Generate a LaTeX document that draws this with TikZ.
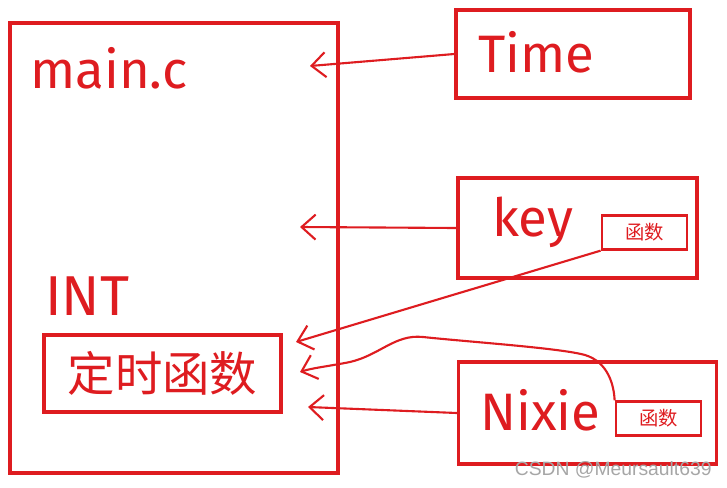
\documentclass[tikz,border=0pt]{standalone}
\usepackage{fontspec}
\setmainfont{Fira Sans}
\newfontfamily\cjk{Noto Sans CJK SC}
\newfontfamily\wmfont{Liberation Sans}
\usepackage{xcolor}
\usetikzlibrary{positioning,arrows.meta}
\definecolor{hand}{RGB}{222,28,32}

\begin{document}
\begin{tikzpicture}[
  x=0.02cm, y=-0.02cm,
  module/.style={
    draw=hand,
    line width=1.9pt,
    inner sep=0pt
  },
  subbox/.style={
    draw=hand,
    line width=1.6pt,
    inner sep=0pt,
    minimum width=1.7cm,
    minimum height=0.67cm,
    font=\cjk\fontsize{11}{11}\selectfont,
    text=hand
  },
  lab/.style={text=hand, anchor=west, inner sep=0pt, font=\fontsize{30}{30}\selectfont},
  link/.style={draw=hand, line width=1.2pt, -{Straight Barb[length=2.8mm,width=5mm]}}
]
  \useasboundingbox (0,0) rectangle (727,487);

  \node[module, minimum width=6.56cm, minimum height=9cm] (main) at (174,248) {};
  \node[module, minimum width=4.68cm, minimum height=1.76cm] (time) at (573,54) {};
  \node[module, minimum width=4.78cm, minimum height=2cm] (key) at (577.5,228) {};
  \node[module, minimum width=5.16cm, minimum height=2.04cm] (nixie) at (587.5,413) {};
  \node[module, minimum width=4.74cm, minimum height=1.54cm, text=hand,
        font=\cjk\fontsize{27}{27}\selectfont] (timer) at (162.5,373.5) {定时函数};
  \node[subbox] (keyfn) at (644.5,232.5) {函数};
  \node[subbox] (nixiefn) at (658.5,418.5) {函数};

  \node[lab] (mainlab) at (30,68) {main.c};
  \node[lab, font=\fontsize{32}{32}\selectfont] (intlab) at (45,296) {INT};
  \node[lab] (timelab) at (478,52) {Time};
  \node[lab] (keylab) at (492,222) {key};
  \node[lab] (nixielab) at (480,410) {Nixie};

  \coordinate (timein) at (310,66);
  \coordinate (keyin) at (300,227);
  \coordinate (fnin1) at (296,342);
  \coordinate (fnin2) at (300,372);
  \coordinate (nixiein) at (308,407);

  \draw[link] (time.west) -- (timein);
  \draw[link] (key.west) -- (keyin);
  \draw[link] (keyfn.south west) -- (fnin1);
  \draw[link] (nixiefn.north west) .. controls (614,385) and (608,362) .. (585,355)
    .. controls (560,348) and (470,342) .. (423,337)
    .. controls (395,334) and (380,355) .. (350,362)
    .. controls (330,366) and (312,368) .. (fnin2);
  \draw[link] (nixie.west) -- (nixiein);

  \node[text=gray!70, font=\wmfont\fontsize{11}{11}\selectfont, anchor=east, inner sep=0pt]
    (mark) at (712,470) {CSDN @Meursault639};
\end{tikzpicture}
\end{document}
